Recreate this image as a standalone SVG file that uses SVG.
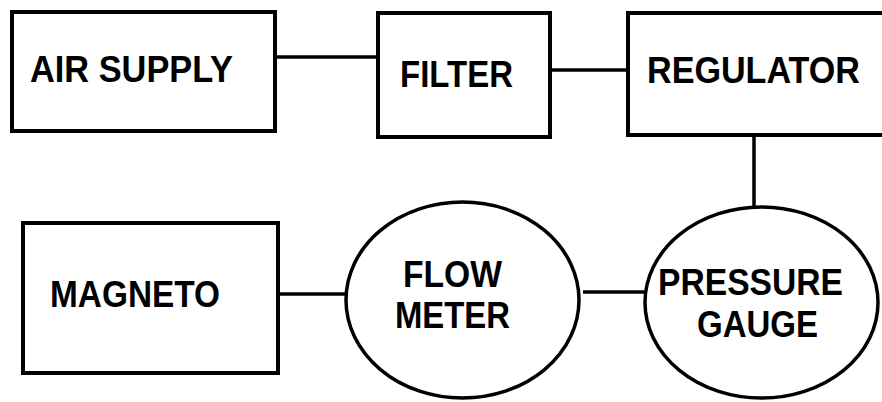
<svg xmlns="http://www.w3.org/2000/svg" width="882" height="402" viewBox="0 0 882 402">
<style>
.box{fill:#fff;stroke:#000;stroke-width:4}
.ell{fill:#fff;stroke:#000;stroke-width:3.5}
.conn line{stroke:#000;stroke-width:3.5}
text{font-family:"Liberation Sans",Arial,sans-serif;font-weight:bold;font-size:36px;fill:#000}
</style>
<rect width="882" height="402" fill="#fff"/>
<g id="connectors" class="conn">
<line x1="275" y1="57" x2="378" y2="57"/>
<line x1="550" y1="70" x2="628" y2="70"/>
<line x1="754" y1="135" x2="754" y2="207"/>
<line x1="278" y1="294" x2="346" y2="294"/>
<line x1="583" y1="292" x2="645" y2="292"/>
</g>
<g id="air-supply">
<rect class="box" x="12" y="12" width="263" height="119"/>
<text x="30" y="82" textLength="203" lengthAdjust="spacingAndGlyphs">AIR SUPPLY</text>
</g>
<g id="filter">
<rect class="box" x="378" y="13" width="172" height="124"/>
<text x="400" y="87" textLength="113" lengthAdjust="spacingAndGlyphs">FILTER</text>
</g>
<g id="regulator">
<rect class="box" x="628" y="13" width="262" height="122"/>
<text x="647" y="83" textLength="213" lengthAdjust="spacingAndGlyphs">REGULATOR</text>
</g>
<g id="magneto">
<rect class="box" x="23" y="223" width="255" height="150"/>
<text x="50" y="307" textLength="170" lengthAdjust="spacingAndGlyphs">MAGNETO</text>
</g>
<g id="flow-meter">
<ellipse class="ell" cx="462.5" cy="300" rx="116.5" ry="98"/>
<text x="403" y="287" textLength="99" lengthAdjust="spacingAndGlyphs">FLOW</text>
<text x="395" y="328" textLength="115" lengthAdjust="spacingAndGlyphs">METER</text>
</g>
<g id="pressure-gauge">
<ellipse class="ell" cx="761.5" cy="302.5" rx="116.5" ry="95.5"/>
<text x="658" y="295" textLength="185" lengthAdjust="spacingAndGlyphs">PRESSURE</text>
<text x="697" y="337" textLength="121" lengthAdjust="spacingAndGlyphs">GAUGE</text>
</g>
</svg>
